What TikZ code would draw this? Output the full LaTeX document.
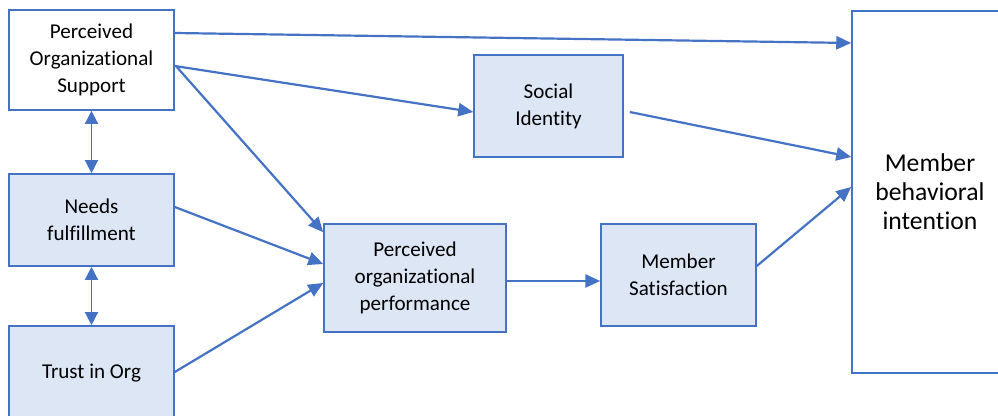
\documentclass[tikz,border=0pt]{standalone}
\usepackage{fontspec}
\setmainfont{Carlito}[Ligatures=NoCommon]
\usepackage{tikz}
\usetikzlibrary{calc,positioning,arrows.meta}
\definecolor{myblue}{HTML}{4472C4}
\definecolor{mylightblue}{HTML}{DCE6F4}
\tikzset{
  constructBox/.style={draw=myblue,line width=0.9pt,fill=mylightblue,align=center,inner sep=0pt,
      font=\fontsize{12}{15.3}\selectfont,text=black},
  plainBox/.style={constructBox,fill=white},
  outcomeBox/.style={plainBox,font=\fontsize{14.6}{16.6}\selectfont},
  pathArrow/.style={draw=myblue,line width=1.25pt,-{Triangle[length=8.5pt,width=7.5pt]}},
  corrArrow/.style={draw=myblue,line width=0.8pt,{Triangle[length=7.5pt,width=7.5pt]}-{Triangle[length=7.5pt,width=7.5pt]}},
}

\begin{document}
\begin{tikzpicture}
  \useasboundingbox (0,0) rectangle (19.96,-8.32);

  \node[plainBox,minimum width=3.30cm,minimum height=2.00cm] at (1.83,-1.20) (pos) {Perceived\\Organizational\\Support};
  \node[constructBox,minimum width=3.30cm,minimum height=1.84cm] at (1.83,-4.40) (needs) {Needs\\fulfillment};
  \node[constructBox,minimum width=3.30cm,minimum height=1.88cm] at (1.83,-7.46) (trust) {Trust in Org};
  \node[constructBox,minimum width=2.98cm,minimum height=2.04cm] at (10.97,-2.12) (si) {Social\\Identity};
  \node[constructBox,minimum width=3.64cm,minimum height=2.16cm] at (8.30,-5.56) (pop) {Perceived\\organizational\\performance};
  \node[constructBox,minimum width=3.10cm,minimum height=2.04cm] at (13.57,-5.50) (ms) {Member\\Satisfaction};
  \node[outcomeBox,minimum width=3.12cm,minimum height=7.24cm] at (18.60,-3.84) (mbi) {Member\\behavioral\\intention};

  \draw[corrArrow] (pos.south) -- (needs.north);
  \draw[corrArrow] (needs.south) -- (trust.north);

  \draw[pathArrow] ($(pos.east)+(0,0.54)$) -- ($(mbi.west)+(0,2.98)$);
  \draw[pathArrow] ($(pos.east)+(0,-0.12)$) -- ($(si.west)+(0,-0.12)$);
  \draw[pathArrow] ($(pos.east)+(0.04,-0.14)$) -- ($(pop.north west)+(0,-0.18)$);
  \draw[pathArrow] ($(needs.east)+(0,0.26)$) -- ($(pop.west)+(0,0.28)$);
  \draw[pathArrow] ($(trust.east)+(0,0.02)$) -- ($(pop.west)+(0,-0.10)$);
  \draw[pathArrow] ($(pop.east)+(0,-0.06)$) -- ($(pop.east -| ms.west)+(0,-0.06)$);
  \draw[pathArrow] ($(si.east)+(0.12,-0.12)$) -- ($(mbi.west)+(0,0.70)$);
  \draw[pathArrow] ($(ms.east)+(0,0.18)$) -- ($(mbi.west)+(0,0.10)$);
\end{tikzpicture}
\end{document}
